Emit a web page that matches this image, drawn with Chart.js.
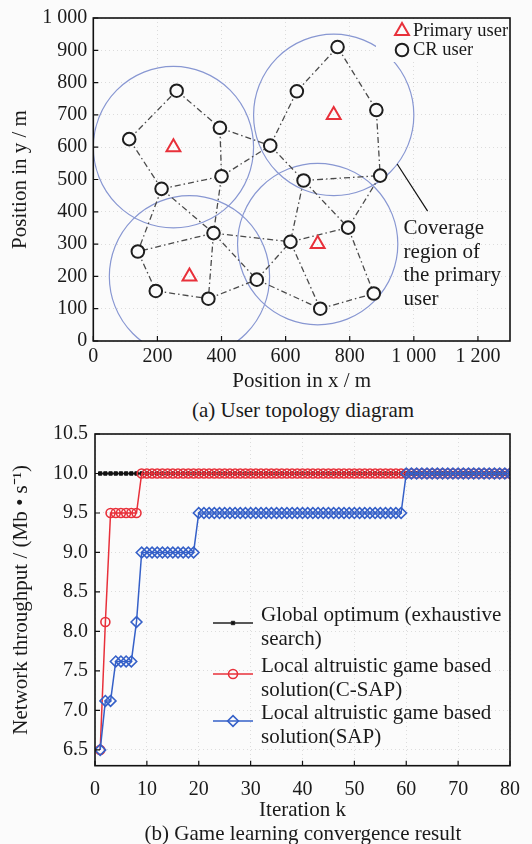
<!DOCTYPE html>
<html>
<head>
<meta charset="utf-8">
<script src="https://cdn.jsdelivr.net/npm/chart.js@4.4.1/dist/chart.umd.min.js"></script>
<style>
  body { margin: 0; background: #fbfbfb; width: 532px; height: 844px; overflow: hidden; position: relative;
         font-family: 'Liberation Serif', 'Times New Roman', serif; color: #1a1a1a; }
  canvas { position: absolute; left: 0; }
  #topo { top: 0; }
  #conv { top: 415px; }
  .caption { position: absolute; left: 103px; width: 400px; text-align: center; font-size: 21px; line-height: 24px; white-space: nowrap; }
</style>
</head>
<body>
<canvas id="topo" width="532" height="395"></canvas>
<div class="caption" style="top:398px">(a) User topology diagram</div>
<canvas id="conv" width="532" height="410"></canvas>
<div class="caption" style="top:821px">(b) Game learning convergence result</div>

<script>
// ---- (a) topology data ----
const primaryUsers = [[250, 600], [750, 700], [300, 200], [700, 300]];
const crUsers = [
  [260, 775], [395, 660], [112, 625], [552, 605], [400, 510], [213, 471],
  [762, 910], [635, 773], [883, 715], [656, 497], [895, 512],
  [375, 334], [139, 277], [615, 307], [795, 351],
  [195, 155], [359, 131], [510, 190], [708, 100], [875, 147]
];
// pairs of crUsers indexes
const links = [
  [2, 0], [0, 1], [1, 4], [1, 3], [2, 5], [5, 4], [4, 3], [5, 11], [5, 12], [4, 11],
  [6, 7], [6, 8], [7, 3], [8, 10], [9, 10], [3, 9], [9, 13], [9, 14], [10, 14],
  [11, 13], [11, 12], [11, 16], [11, 17], [12, 15], [15, 16], [16, 17], [17, 13],
  [17, 18], [13, 18], [13, 14], [14, 19], [18, 19]
];
const coverageRadius = 250;
const noteLeader = [[948, 548], [1043, 402]];
const noteAnchor = [968, 348];
const noteLines = ['Coverage', 'region of', 'the primary', 'user'];

// ---- (b) convergence data ----
const iterations = [
  1, 2, 3, 4, 5, 6, 7, 8, 9, 10, 11, 12, 13, 14, 15, 16, 17, 18, 19, 20,
  21, 22, 23, 24, 25, 26, 27, 28, 29, 30, 31, 32, 33, 34, 35, 36, 37, 38, 39, 40,
  41, 42, 43, 44, 45, 46, 47, 48, 49, 50, 51, 52, 53, 54, 55, 56, 57, 58, 59, 60,
  61, 62, 63, 64, 65, 66, 67, 68, 69, 70, 71, 72, 73, 74, 75, 76, 77, 78, 79, 80
];
const globalOptimum = [
  10.0, 10.0, 10.0, 10.0, 10.0, 10.0, 10.0, 10.0, 10.0, 10.0, 10.0, 10.0, 10.0, 10.0, 10.0, 10.0, 10.0, 10.0, 10.0, 10.0,
  10.0, 10.0, 10.0, 10.0, 10.0, 10.0, 10.0, 10.0, 10.0, 10.0, 10.0, 10.0, 10.0, 10.0, 10.0, 10.0, 10.0, 10.0, 10.0, 10.0,
  10.0, 10.0, 10.0, 10.0, 10.0, 10.0, 10.0, 10.0, 10.0, 10.0, 10.0, 10.0, 10.0, 10.0, 10.0, 10.0, 10.0, 10.0, 10.0, 10.0,
  10.0, 10.0, 10.0, 10.0, 10.0, 10.0, 10.0, 10.0, 10.0, 10.0, 10.0, 10.0, 10.0, 10.0, 10.0, 10.0, 10.0, 10.0, 10.0, 10.0
];
const cSap = [
  6.5, 8.12, 9.5, 9.5, 9.5, 9.5, 9.5, 9.5, 10.0, 10.0, 10.0, 10.0, 10.0, 10.0, 10.0, 10.0, 10.0, 10.0, 10.0, 10.0,
  10.0, 10.0, 10.0, 10.0, 10.0, 10.0, 10.0, 10.0, 10.0, 10.0, 10.0, 10.0, 10.0, 10.0, 10.0, 10.0, 10.0, 10.0, 10.0, 10.0,
  10.0, 10.0, 10.0, 10.0, 10.0, 10.0, 10.0, 10.0, 10.0, 10.0, 10.0, 10.0, 10.0, 10.0, 10.0, 10.0, 10.0, 10.0, 10.0, 10.0,
  10.0, 10.0, 10.0, 10.0, 10.0, 10.0, 10.0, 10.0, 10.0, 10.0, 10.0, 10.0, 10.0, 10.0, 10.0, 10.0, 10.0, 10.0, 10.0, 10.0
];
const sap = [
  6.5, 7.12, 7.12, 7.62, 7.62, 7.62, 7.62, 8.12, 9.0, 9.0, 9.0, 9.0, 9.0, 9.0, 9.0, 9.0, 9.0, 9.0, 9.0, 9.5,
  9.5, 9.5, 9.5, 9.5, 9.5, 9.5, 9.5, 9.5, 9.5, 9.5, 9.5, 9.5, 9.5, 9.5, 9.5, 9.5, 9.5, 9.5, 9.5, 9.5,
  9.5, 9.5, 9.5, 9.5, 9.5, 9.5, 9.5, 9.5, 9.5, 9.5, 9.5, 9.5, 9.5, 9.5, 9.5, 9.5, 9.5, 9.5, 9.5, 10.0,
  10.0, 10.0, 10.0, 10.0, 10.0, 10.0, 10.0, 10.0, 10.0, 10.0, 10.0, 10.0, 10.0, 10.0, 10.0, 10.0, 10.0, 10.0, 10.0, 10.0
];
const legendText = [
  ['Global optimum (exhaustive', 'search)'],
  ['Local altruistic game based', 'solution(C-SAP)'],
  ['Local altruistic game based', 'solution(SAP)']
];

const serif = "'Liberation Serif', 'Times New Roman', serif";
const bg = '#fbfbfb';
const ink = '#1a1a1a';
const red = '#e8303a';
const blue = '#3560c8';
const ringColor = '#8897d2';

Chart.defaults.font.family = serif;
Chart.defaults.color = ink;

const spaced = v => String(v).replace(/\B(?=(\d{3})+(?!\d))/g, ' ');

// frame + inward ticks on left and bottom
const frame = {
  id: 'frame',
  afterDatasetsDraw(chart) {
    const { ctx, chartArea: a, scales: { x, y } } = chart;
    ctx.save();
    ctx.strokeStyle = '#111';
    ctx.lineWidth = 1.2;
    ctx.beginPath();
    x.ticks.forEach(t => {
      const px = x.getPixelForValue(t.value);
      ctx.moveTo(px, a.bottom);
      ctx.lineTo(px, a.bottom - 5);
    });
    y.ticks.forEach(t => {
      const py = y.getPixelForValue(t.value);
      ctx.moveTo(a.left, py);
      ctx.lineTo(a.left + 5, py);
    });
    ctx.stroke();
    ctx.lineWidth = 1.6;
    ctx.strokeRect(a.left, a.top, a.right - a.left, a.bottom - a.top);
    ctx.restore();
  }
};

// coverage circles round each primary user
const coverage = {
  id: 'coverage',
  beforeDatasetsDraw(chart) {
    const { ctx, chartArea: a, scales: { x, y } } = chart;
    ctx.save();
    ctx.beginPath();
    ctx.rect(a.left, a.top, a.right - a.left, a.bottom - a.top);
    ctx.clip();
    ctx.strokeStyle = ringColor;
    ctx.lineWidth = 1.2;
    primaryUsers.forEach(([cx, cy]) => {
      const px = x.getPixelForValue(cx), py = y.getPixelForValue(cy);
      const rx = x.getPixelForValue(cx + coverageRadius) - px;
      const ry = py - y.getPixelForValue(cy + coverageRadius);
      ctx.beginPath();
      ctx.ellipse(px, py, rx, ry, 0, 0, Math.PI * 2);
      ctx.stroke();
    });
    ctx.restore();
  }
};

const note = {
  id: 'note',
  afterDatasetsDraw(chart) {
    const { ctx, scales: { x, y } } = chart;
    ctx.save();
    ctx.strokeStyle = '#111';
    ctx.lineWidth = 1.2;
    ctx.beginPath();
    ctx.moveTo(x.getPixelForValue(noteLeader[0][0]), y.getPixelForValue(noteLeader[0][1]));
    ctx.lineTo(x.getPixelForValue(noteLeader[1][0]), y.getPixelForValue(noteLeader[1][1]));
    ctx.stroke();
    ctx.font = '21px ' + serif;
    ctx.fillStyle = ink;
    ctx.textBaseline = 'middle';
    const tx = x.getPixelForValue(noteAnchor[0]);
    const ty = y.getPixelForValue(noteAnchor[1]);
    noteLines.forEach((t, i) => ctx.fillText(t, tx, ty + i * 23.6));
    ctx.restore();
  }
};

const topoLegend = {
  id: 'topoLegend',
  afterDraw(chart) {
    const { ctx, chartArea: a } = chart;
    const ds = chart.data.datasets;
    const items = [
      { d: ds[2], text: 'Primary user', dy: 13 },
      { d: ds[1], text: 'CR user', dy: 32 }
    ];
    ctx.save();
    ctx.fillStyle = bg;
    ctx.fillRect(a.right - 134, a.top + 1, 133, 43);
    ctx.font = '18.5px ' + serif;
    ctx.textBaseline = 'middle';
    items.forEach(it => {
      ctx.strokeStyle = it.d.borderColor;
      ctx.lineWidth = it.d.borderWidth;
      ctx.fillStyle = bg;
      Chart.helpers.drawPoint(ctx, { pointStyle: it.d.pointStyle, radius: it.d.pointRadius, borderWidth: it.d.borderWidth, rotation: 0 }, a.right - 108, a.top + it.dy);
      ctx.fillStyle = ink;
      ctx.fillText(it.text, a.right - 97, a.top + it.dy);
    });
    ctx.restore();
  }
};

const convLegend = {
  id: 'convLegend',
  afterDraw(chart) {
    const { ctx, chartArea: a } = chart;
    const rows = [189, 240, 287];
    ctx.save();
    ctx.font = '21px ' + serif;
    ctx.textBaseline = 'middle';
    chart.data.datasets.forEach((d, i) => {
      const my = a.top + rows[i];
      const x0 = a.left + 118, x1 = a.left + 158;
      ctx.strokeStyle = d.borderColor;
      ctx.lineWidth = d.borderWidth;
      ctx.beginPath();
      ctx.moveTo(x0, my);
      ctx.lineTo(x1, my);
      ctx.stroke();
      ctx.fillStyle = d.pointBackgroundColor;
      ctx.lineWidth = d.pointBorderWidth;
      Chart.helpers.drawPoint(ctx, { pointStyle: d.pointStyle, radius: d.pointRadius, borderWidth: d.pointBorderWidth, rotation: 0 }, (x0 + x1) / 2, my);
      ctx.fillStyle = ink;
      ctx.fillText(legendText[i][0], a.left + 166, my - 7.5);
      ctx.fillText(legendText[i][1], a.left + 166, my + 16);
    });
    ctx.restore();
  }
};

const gridLook = { color: 'rgba(0,0,0,0.12)', drawTicks: false };
const noBorder = { display: false, dash: [1, 3] };

// ---- (a) User topology diagram ----
const linkPoints = [];
links.forEach(([a, b]) => {
  linkPoints.push({ x: crUsers[a][0], y: crUsers[a][1] });
  linkPoints.push({ x: crUsers[b][0], y: crUsers[b][1] });
  linkPoints.push({ x: null, y: null });
});

new Chart(document.getElementById('topo'), {
  type: 'scatter',
  data: {
    datasets: [
      {
        label: 'links',
        data: linkPoints,
        showLine: true,
        spanGaps: false,
        borderColor: '#4a4a4a',
        borderWidth: 1.3,
        borderDash: [6, 3, 1.5, 3],
        pointRadius: 0,
        order: 3
      },
      {
        label: 'CR user',
        data: crUsers.map(([x, y]) => ({ x, y })),
        pointStyle: 'circle',
        pointRadius: 6.3,
        borderWidth: 2,
        borderColor: '#1e1e1e',
        backgroundColor: bg,
        order: 2
      },
      {
        label: 'Primary user',
        data: primaryUsers.map(([x, y]) => ({ x, y })),
        pointStyle: 'triangle',
        pointRadius: 8,
        borderWidth: 2,
        borderColor: red,
        backgroundColor: 'rgba(0,0,0,0)',
        order: 1
      }
    ]
  },
  options: {
    responsive: false,
    animation: false,
    devicePixelRatio: 1,
    layout: { padding: { top: 15.5, right: 22, left: 0, bottom: 0 } },
    plugins: { legend: { display: false }, tooltip: { enabled: false } },
    scales: {
      x: {
        type: 'linear', min: 0, max: 1300,
        afterFit(s) { s.height = 54; },
        ticks: { stepSize: 200, includeBounds: false, padding: 4, maxRotation: 0, autoSkip: false, font: { size: 20 }, color: ink, callback: spaced },
        grid: gridLook, border: noBorder,
        title: { display: true, text: 'Position in x / m', font: { size: 21, lineHeight: 1.2 }, color: ink, padding: { top: 0, bottom: 1 } }
      },
      y: {
        type: 'linear', min: 0, max: 1000,
        afterFit(s) { s.width = 93.3; },
        ticks: { stepSize: 100, padding: 6, font: { size: 20 }, color: ink, callback: spaced },
        grid: gridLook, border: noBorder,
        title: { display: true, text: 'Position in y / m', font: { size: 21, lineHeight: 1.2 }, color: ink, padding: { top: 8, bottom: 0 } }
      }
    }
  },
  plugins: [coverage, frame, note, topoLegend]
});

// ---- (b) Game learning convergence result ----
new Chart(document.getElementById('conv'), {
  type: 'line',
  data: {
    labels: iterations,
    datasets: [
      {
        label: 'Global optimum (exhaustive search)',
        data: globalOptimum,
        borderColor: '#222',
        borderWidth: 1.4,
        pointStyle: 'rect',
        pointRadius: 2.4,
        pointBorderWidth: 1,
        pointBackgroundColor: '#111',
        pointBorderColor: '#111',
        order: 3
      },
      {
        label: 'Local altruistic game based solution(C-SAP)',
        data: cSap,
        borderColor: red,
        borderWidth: 1.5,
        pointStyle: 'circle',
        pointRadius: 4.5,
        pointBorderWidth: 1.6,
        pointBackgroundColor: 'rgba(0,0,0,0)',
        pointBorderColor: red,
        order: 2
      },
      {
        label: 'Local altruistic game based solution(SAP)',
        data: sap,
        borderColor: blue,
        borderWidth: 1.5,
        pointStyle: 'rectRot',
        pointRadius: 5.4,
        pointBorderWidth: 1.6,
        pointBackgroundColor: 'rgba(0,0,0,0)',
        pointBorderColor: blue,
        order: 1
      }
    ]
  },
  options: {
    responsive: false,
    animation: false,
    devicePixelRatio: 1,
    layout: { padding: { top: 17.7, right: 20.3, left: 0, bottom: 0 } },
    plugins: { legend: { display: false }, tooltip: { enabled: false } },
    scales: {
      x: {
        type: 'linear', min: 0, max: 80,
        afterFit(s) { s.height = 59.3; },
        ticks: { stepSize: 10, padding: 12, maxRotation: 0, autoSkip: false, font: { size: 20 }, color: ink },
        grid: gridLook, border: noBorder,
        title: { display: true, text: 'Iteration k', font: { size: 21, lineHeight: 1.2 }, color: ink, padding: { top: 0, bottom: 1.5 } }
      },
      y: {
        type: 'linear', min: 6.3, max: 10.5,
        afterFit(s) { s.width = 95; },
        ticks: { stepSize: 0.5, includeBounds: false, padding: 7, font: { size: 20 }, color: ink, callback: v => v.toFixed(1) },
        grid: gridLook, border: noBorder,
        title: { display: true, text: 'Network throughput / (Mb \u2022 s\u207B\u00B9)', font: { size: 21, lineHeight: 1.2 }, color: ink, padding: { top: 8.4, bottom: 0 } }
      }
    }
  },
  plugins: [frame, convLegend]
});
</script>
</body>
</html>
